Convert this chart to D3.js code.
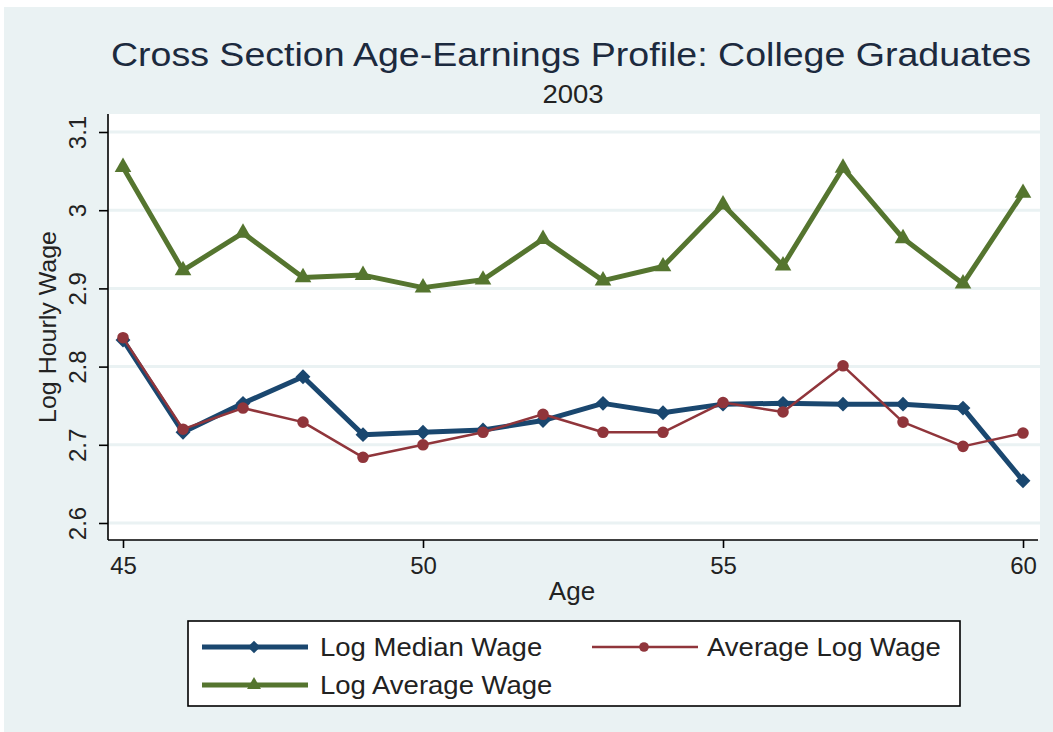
<!DOCTYPE html>
<html>
<head>
<meta charset="utf-8">
<script src="https://cdn.jsdelivr.net/npm/d3@7"></script>
<style>
  body { margin: 0; background: #fff; }
  text { font-family: "Liberation Sans", Arial, sans-serif; }
</style>
</head>
<body>
<div id="graph"></div>
<script>
const width = 1053,
    height = 732;

// data
const ages = [45, 46, 47, 48, 49, 50, 51, 52, 53, 54, 55, 56, 57, 58, 59, 60];
const logMedianWage = [2.834, 2.716, 2.753, 2.787, 2.713, 2.716, 2.719, 2.731, 2.753, 2.741, 2.752, 2.753, 2.752, 2.752, 2.747, 2.654];
const averageLogWage = [2.837, 2.720, 2.747, 2.729, 2.684, 2.700, 2.716, 2.739, 2.716, 2.716, 2.754, 2.742, 2.801, 2.729, 2.698, 2.715];
const logAverageWage = [3.055, 2.923, 2.971, 2.914, 2.917, 2.901, 2.911, 2.963, 2.910, 2.928, 3.007, 2.929, 3.054, 2.964, 2.906, 3.022];
const yTicks = [2.6, 2.7, 2.8, 2.9, 3, 3.1];
const xTicks = [45, 50, 55, 60];

// diamond = square turned 45 degrees (stata style)
const series = [
  { name: "Log Median Wage", values: logMedianWage, color: "#1a476f", lw: 5, marker: d3.symbolSquare, rot: 45, msize: 110 },
  { name: "Average Log Wage", values: averageLogWage, color: "#90353b", lw: 2.5, marker: d3.symbolCircle, rot: 0, msize: 105 },
  { name: "Log Average Wage", values: logAverageWage, color: "#55752f", lw: 5, marker: d3.symbolTriangle, rot: 0, msize: 120 }
];

const plotL = 108, plotR = 1040, plotT = 114, plotB = 540;

const x = d3.scaleLinear().domain([44.75, 60.283]).range([plotL, plotR]);
const y = d3.scaleLinear().domain([2.6, 3.1]).range([523, 132]);

const svg = d3.select("#graph")
    .append("svg")
    .attr("width", width)
    .attr("height", height);

// stretch text a bit wider, the original font is wider than ours
function stretch(sel, k) {
  sel.each(function () {
    const w = this.getComputedTextLength();
    d3.select(this).attr("textLength", w * k).attr("lengthAdjust", "spacingAndGlyphs");
  });
}

// outer background
svg.append("rect")
    .attr("x", 4).attr("y", 7)
    .attr("width", width - 4).attr("height", height - 7)
    .attr("fill", "#eaf2f3");

// plot region
svg.append("rect")
    .attr("x", plotL).attr("y", plotT)
    .attr("width", plotR - plotL).attr("height", plotB - plotT)
    .attr("fill", "#fff");

// gridlines
svg.selectAll(".grid")
    .data(yTicks)
    .enter()
    .append("line")
    .attr("class", "grid")
    .attr("x1", plotL).attr("x2", plotR)
    .attr("y1", d => y(d)).attr("y2", d => y(d))
    .attr("stroke", "#eaf2f3")
    .attr("stroke-width", 3);

// axes
const yAxis = d3.axisLeft(y).tickValues(yTicks).tickSize(9).tickPadding(10)
    .tickFormat(d3.format("~g"));
const xAxis = d3.axisBottom(x).tickValues(xTicks).tickSize(8).tickPadding(8);

const gy = svg.append("g")
    .attr("transform", "translate(" + plotL + ",0)")
    .call(yAxis);
gy.select(".domain").attr("d", "M0," + plotT + "V" + plotB);
gy.selectAll(".tick text")
    .attr("transform", "rotate(-90)")
    .attr("x", 0).attr("dy", 0)
    .attr("y", -22)
    .attr("text-anchor", "middle")
    .attr("font-size", 24).attr("fill", "#222");

const gx = svg.append("g")
    .attr("transform", "translate(0," + plotB + ")")
    .call(xAxis);
gx.select(".domain").attr("d", "M" + plotL + ",0H" + (plotR - 2));
gx.selectAll(".tick text").attr("font-size", 24).attr("fill", "#222").attr("dy", "0.75em");

svg.selectAll(".domain, .tick line").attr("stroke", "#000").attr("stroke-width", 1.6);

// lines + markers
series.forEach(function (s) {
  const pts = ages.map((a, i) => [a, s.values[i]]);
  svg.append("path")
      .datum(pts)
      .attr("fill", "none")
      .attr("stroke", s.color)
      .attr("stroke-width", s.lw)
      .attr("stroke-linejoin", "round")
      .attr("d", d3.line().x(d => x(d[0])).y(d => y(d[1])));
  svg.selectAll(null)
      .data(pts)
      .enter()
      .append("path")
      .attr("transform", d => "translate(" + x(d[0]) + "," + y(d[1]) + ") rotate(" + s.rot + ")")
      .attr("d", d3.symbol().type(s.marker).size(s.msize))
      .attr("fill", s.color);
});

// titles
svg.append("text")
    .attr("x", 571).attr("y", 66)
    .attr("text-anchor", "middle")
    .attr("font-size", 32.5)
    .attr("fill", "#1c2a3e")
    .text("Cross Section Age-Earnings Profile: College Graduates")
    .call(stretch, 1.155);
svg.append("text")
    .attr("x", 573).attr("y", 103)
    .attr("text-anchor", "middle")
    .attr("font-size", 25)
    .attr("fill", "#222")
    .text("2003")
    .call(stretch, 1.1);
svg.append("text")
    .attr("x", 572).attr("y", 600)
    .attr("text-anchor", "middle")
    .attr("font-size", 26)
    .attr("fill", "#222")
    .text("Age");
svg.append("text")
    .attr("transform", "translate(56,327) rotate(-90)")
    .attr("text-anchor", "middle")
    .attr("font-size", 24)
    .attr("fill", "#222")
    .text("Log Hourly Wage")
    .call(stretch, 1.04);

// legend
const legend = svg.append("g");
legend.append("rect")
    .attr("x", 188).attr("y", 621)
    .attr("width", 772).attr("height", 85)
    .attr("fill", "#fff")
    .attr("stroke", "#000")
    .attr("stroke-width", 1.6);

const legPos = [[202, 647], [592, 647], [202, 685]];
series.forEach(function (s, i) {
  const p = legPos[i];
  const lg = legend.append("g").attr("transform", "translate(" + p[0] + "," + p[1] + ")");
  lg.append("line")
      .attr("x1", 0).attr("x2", 106)
      .attr("stroke", s.color).attr("stroke-width", s.lw);
  lg.append("path")
      .attr("transform", "translate(52,0) rotate(" + s.rot + ")")
      .attr("d", d3.symbol().type(s.marker).size(s.msize * 0.7))
      .attr("fill", s.color);
  lg.append("text")
      .attr("x", i === 1 ? 115 : 118).attr("y", 9)
      .attr("font-size", 25)
      .attr("fill", "#222")
      .text(s.name)
      .call(stretch, 1.1);
});
</script>
</body>
</html>
